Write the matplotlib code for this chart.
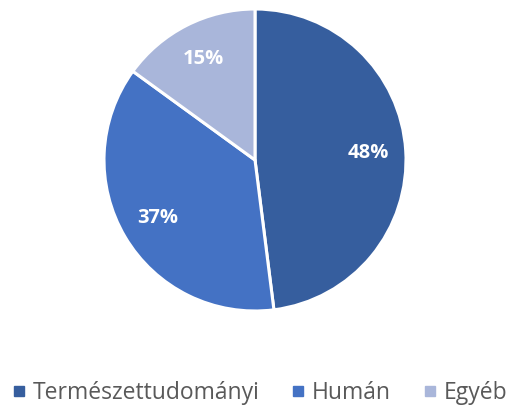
import matplotlib.pyplot as plt
from matplotlib.lines import Line2D

labels = ['Természettudományi', 'Humán', 'Egyéb']
values = [48, 37, 15]
colors = ['#365E9E', '#4472C4', '#A9B6DA']

fig = plt.figure(figsize=(5.12, 4.07), dpi=100)
cx, cy, r = 255, 160, 151
ax = fig.add_axes([(cx - r) / 512, (407 - cy - r) / 407, 2 * r / 512, 2 * r / 407])

wedges, texts, autotexts = ax.pie(
    values, colors=colors, startangle=90, counterclock=False,
    autopct='%1.0f%%', pctdistance=0.75, radius=1,
    wedgeprops=dict(edgecolor='white', linewidth=2.2),
    textprops=dict(color='white', fontsize=14.5, fontweight='bold', family='Open Sans'))
ax.set_xlim(-1.0, 1.0)
ax.set_ylim(-1.0, 1.0)
ax.set_aspect('equal')

handles = [Line2D([], [], marker='s', linestyle='', color=c, markersize=7.5) for c in colors]
fig.legend(handles, labels, loc='center', bbox_to_anchor=(0.505, 1 - 393 / 407), ncol=3,
           frameon=False, handletextpad=0.2, columnspacing=1.3, handlelength=0.8,
           prop=dict(family='Open Sans', size=16.5), labelcolor='#595959')

fig.savefig('out.png', dpi=100)
